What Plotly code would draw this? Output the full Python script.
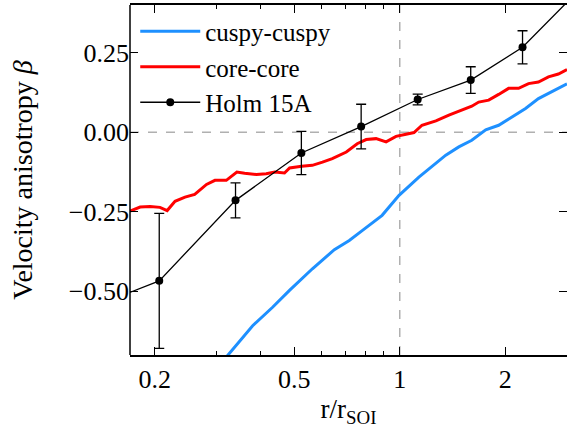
import numpy as np
import plotly.graph_objects as go

# Radii in units of the sphere-of-influence radius
r_core = [0.170, 0.1817, 0.194, 0.207, 0.217, 0.2285, 0.244, 0.260, 0.281, 0.297,
          0.320, 0.343, 0.361, 0.390, 0.416, 0.440, 0.469, 0.485, 0.525, 0.563,
          0.602, 0.642, 0.704, 0.756, 0.802, 0.856, 0.914, 0.976, 1.042, 1.098,
          1.157, 1.268, 1.381, 1.503, 1.605, 1.680, 1.794, 1.915, 2.044, 2.183,
          2.330, 2.487, 2.656, 2.835, 3.0]
beta_core = [-0.248, -0.235, -0.233, -0.236, -0.246, -0.217, -0.204, -0.195, -0.164, -0.151,
             -0.151, -0.125, -0.129, -0.133, -0.130, -0.125, -0.128, -0.112, -0.107, -0.104,
             -0.094, -0.083, -0.062, -0.036, -0.023, -0.020, -0.030, -0.013, -0.006, -0.001,
             0.022, 0.036, 0.054, 0.069, 0.082, 0.095, 0.101, 0.119, 0.138, 0.138,
             0.153, 0.158, 0.174, 0.183, 0.197]

r_cusp = [0.311, 0.3237, 0.3805, 0.4337, 0.4847, 0.5075, 0.5634, 0.6507, 0.7178, 0.7813,
          0.8906, 0.9954, 1.134, 1.353, 1.474, 1.605, 1.759, 1.915, 2.084, 2.285,
          2.487, 2.709, 2.949, 3.0]
beta_cusp = [-0.720, -0.700, -0.608, -0.550, -0.497, -0.476, -0.429, -0.369, -0.340, -0.309,
             -0.261, -0.198, -0.141, -0.072, -0.046, -0.025, 0.008, 0.022, 0.048, 0.075,
             0.106, 0.127, 0.148, 0.152]

# Holm 15A measurements (with the profile continued past the plotted range)
r_holm = [0.15, 0.206, 0.340, 0.524, 0.776, 1.125, 1.594, 2.24, 3.2]
beta_holm = [-0.527, -0.467, -0.214, -0.065, 0.018, 0.103, 0.164, 0.267, 0.440]
err_holm = [0.0, 0.212, 0.055, 0.068, 0.070, 0.017, 0.042, 0.052, 0.0]

x_major = [0.2, 0.5, 1, 2]
x_major_text = ["0.2", "0.5", "1", "2"]
x_minor = [0.3, 0.4, 0.6, 0.7, 0.8, 0.9, 3]
y_major = [-0.5, -0.25, 0.0, 0.25]

FONT = "Liberation Serif"

fig = go.Figure()

fig.add_trace(go.Scatter(
    x=r_cusp, y=beta_cusp, mode="lines", name="cuspy-cuspy",
    line=dict(color="#1e90ff", width=3),
))
fig.add_trace(go.Scatter(
    x=r_core, y=beta_core, mode="lines", name="core-core",
    line=dict(color="#ff0000", width=3),
))
fig.add_trace(go.Scatter(
    x=r_holm, y=beta_holm, mode="lines+markers", name="Holm 15A",
    line=dict(color="black", width=1.3),
    marker=dict(color="black", size=8),
    error_y=dict(type="data", array=err_holm, color="black", thickness=1.3, width=5),
))

# reference lines at beta = 0 and r = r_SOI
fig.add_hline(y=0, line=dict(color="#b0b0b0", width=1.5, dash="dash"), layer="below")
fig.add_vline(x=1, line=dict(color="#b0b0b0", width=1.5, dash="dash"), layer="below")

# left spine (the right-hand spine falls just outside the page)
fig.add_shape(type="line", xref="paper", yref="paper", x0=0, x1=0, y0=0, y1=1,
              line=dict(color="black", width=1.5), layer="above")

fig.update_layout(
    width=567, height=430,
    margin=dict(l=130, r=0, t=5, b=75),
    paper_bgcolor="white", plot_bgcolor="white",
    font=dict(family=FONT, color="black", size=26),
    showlegend=True,
    legend=dict(x=0.012, y=0.99, xanchor="left", yanchor="top",
                bgcolor="rgba(0,0,0,0)", font=dict(size=25, family=FONT),
                tracegroupgap=0, itemwidth=60),
)

fig.update_xaxes(
    type="log", range=[np.log10(0.17), np.log10(3.0)],
    tickvals=x_major, ticktext=x_major_text,
    ticks="inside", ticklen=8, tickwidth=1.2, tickcolor="black",
    minor=dict(tickvals=x_minor, ticks="inside", ticklen=4, tickwidth=1, tickcolor="black"),
    showline=True, linecolor="black", linewidth=1.5, mirror="allticks",
    showgrid=False, zeroline=False,
    tickfont=dict(size=26, family=FONT),
    title=dict(text="r/r<sub>SOI</sub>", font=dict(size=27, family=FONT), standoff=6),
)
fig.update_yaxes(
    range=[-0.7, 0.4],
    tickvals=y_major, tickformat=".2f",
    ticks="inside", ticklen=8, tickwidth=1.2, tickcolor="black",
    showline=False, mirror="allticks",
    showgrid=False, zeroline=False,
    tickfont=dict(size=26, family=FONT),
    title=dict(text="Velocity anisotropy <i>β</i>", font=dict(size=28, family=FONT), standoff=28),
)

fig.write_html("out.html")
